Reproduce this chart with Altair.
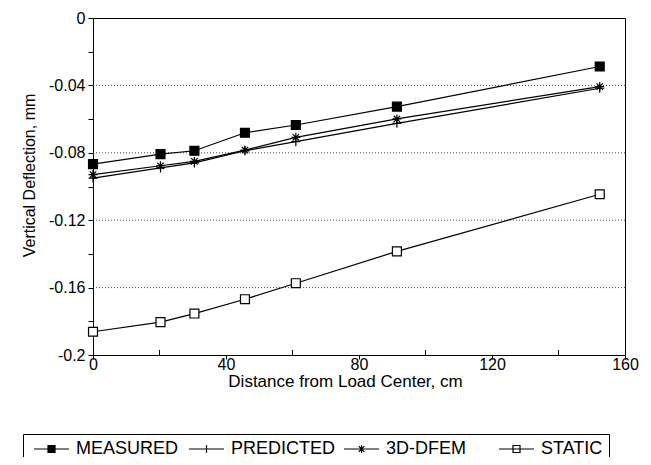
import altair as alt
import pandas as pd

# ---- data ----
distance_cm = [0, 20.3, 30.5, 45.7, 61.0, 91.4, 152.4]
series_names = ["MEASURED", "PREDICTED", "3D-DFEM", "STATIC"]
measured = [-0.0867, -0.0808, -0.0788, -0.0681, -0.0635, -0.0526, -0.0288]
predicted = [-0.0950, -0.0890, -0.0860, -0.0788, -0.0734, -0.0625, -0.0417]
dfem = [-0.0929, -0.0877, -0.0851, -0.0784, -0.0708, -0.0599, -0.0407]
static = [-0.1862, -0.1805, -0.1754, -0.1669, -0.1574, -0.1385, -0.1046]

y_ticks = [0, -0.02, -0.04, -0.06, -0.08, -0.10, -0.12, -0.14, -0.16, -0.18, -0.2]
x_labels = [0, 40, 80, 120, 160]
x_minor = [20, 60, 100, 140]
grid_y = [-0.04, -0.08, -0.12, -0.16]

rows = []
for name, vals in zip(series_names, [measured, predicted, dfem, static]):
    for xv, yv in zip(distance_cm, vals):
        rows.append({"x": xv, "y": yv, "series": name})
df = pd.DataFrame(rows)

FONT = "Liberation Sans"
W, H = 532, 337

xscale = alt.Scale(domain=[0, 160], nice=False, zero=False)
yscale = alt.Scale(domain=[-0.2, 0], nice=False, zero=False)

x_axis = alt.Axis(
    title="Distance from Load Center, cm", values=x_labels,
    grid=False, tickSize=4, labelPadding=-3, labelFontSize=16, labelFont=FONT,
    labelColor="black", tickColor="black", domainColor="black",
    titleFontSize=17, titleFont=FONT, titleFontWeight="normal", titleColor="black",
    titleX=252, titleY=26, titleBaseline="middle", labelFlush=False,
)
y_axis = alt.Axis(
    title="Vertical Deflection, mm", values=y_ticks,
    labelExpr="abs(round(datum.value*100)) % 4 == 0 ? (datum.value == 0 ? '0' : '' + datum.value) : ''",
    grid=False, tickSize=5, labelPadding=3, labelFontSize=16, labelFont=FONT,
    labelColor="black", tickColor="black", domainColor="black",
    titleFontSize=16, titleFont=FONT, titleFontWeight="normal", titleColor="black",
    titleAngle=270, titleX=-64, titleY=157, titleBaseline="middle", titleAlign="center",
    labelFlush=False,
)

marker_paths = [
    "square",
    "M-1,0H1M0,-1V1",
    "M-1,0H1M0,-1V1M-0.72,-0.72L0.72,0.72M-0.72,0.72L0.72,-0.72",
    "square",
]
# legend glyphs: a short line with the marker on it (unit = 7 px)
legend_paths = [
    "M-0.57,0H4.43M1.43,-0.5H2.43V0.5H1.43Z",
    "M-0.57,0H4.43M1.93,-0.55V0.55",
    "M-0.57,0H4.43M1.93,-0.55V0.55M1.53,-0.4L2.33,0.4M1.53,0.4L2.33,-0.4",
    "M-0.57,0H4.43M1.43,-0.5H2.43V0.5H1.43Z",
]
fill_colors = ["black", "black", "black", "white"]
stroke_colors = ["black", "black", "black", "black"]

base = alt.Chart(df)

grid = alt.Chart(pd.DataFrame({"g": grid_y})).mark_rule(
    color="#444", strokeDash=[1, 2], strokeWidth=1
).encode(y=alt.Y("g:Q", scale=yscale, axis=y_axis))

minor = alt.Chart(pd.DataFrame({"m": x_minor})).mark_rule(
    color="black", strokeWidth=1
).encode(
    x=alt.X("m:Q", scale=xscale, axis=x_axis),
    y=alt.value(H), y2=alt.value(H - 5),
)

lines = base.mark_line(color="black", strokeWidth=1.2).encode(
    x=alt.X("x:Q", scale=xscale, axis=x_axis),
    y=alt.Y("y:Q", scale=yscale, axis=y_axis),
    detail="series:N",
)

points = base.mark_point(size=80, stroke="black", strokeWidth=1.2, opacity=1).encode(
    x=alt.X("x:Q", scale=xscale, axis=x_axis),
    y=alt.Y("y:Q", scale=yscale, axis=y_axis),
    shape=alt.Shape("series:N", scale=alt.Scale(domain=series_names, range=marker_paths), legend=None),
    fill=alt.Fill("series:N", scale=alt.Scale(domain=series_names, range=fill_colors), legend=None),
)

leg = alt.Legend(
    title=None, orient="none", legendX=-70, legendY=416, direction="horizontal",
    columns=4, gridAlign="all", columnPadding=3, labelFontSize=18, labelFont=FONT,
    labelColor="black", labelOffset=29, symbolSize=196, symbolStrokeWidth=1.2,
    symbolStrokeColor="black", strokeColor="black", padding=6, labelLimit=300,
)

legend_layer = base.transform_filter("datum.x < -999").mark_point(
    size=196, strokeWidth=1.2, opacity=1
).encode(
    x=alt.X("x:Q", scale=xscale, axis=x_axis),
    y=alt.Y("y:Q", scale=yscale, axis=y_axis),
    shape=alt.Shape("series:N", scale=alt.Scale(domain=series_names, range=legend_paths), legend=leg),
    fill=alt.Fill("series:N", scale=alt.Scale(domain=series_names, range=fill_colors), legend=leg),
    stroke=alt.Stroke("series:N", scale=alt.Scale(domain=series_names, range=stroke_colors), legend=leg),
)

chart = alt.layer(grid, minor, lines, points, legend_layer).resolve_scale(
    shape="independent", fill="independent", stroke="independent"
).properties(
    width=W, height=H,
    padding={"left": 85, "top": 10, "right": 18, "bottom": 102},
    autosize=alt.AutoSizeParams(type="none"),
    background="white",
).configure_view(stroke="black", strokeWidth=1)

chart.save("out.html", embed_options={"renderer": "svg", "actions": False})
